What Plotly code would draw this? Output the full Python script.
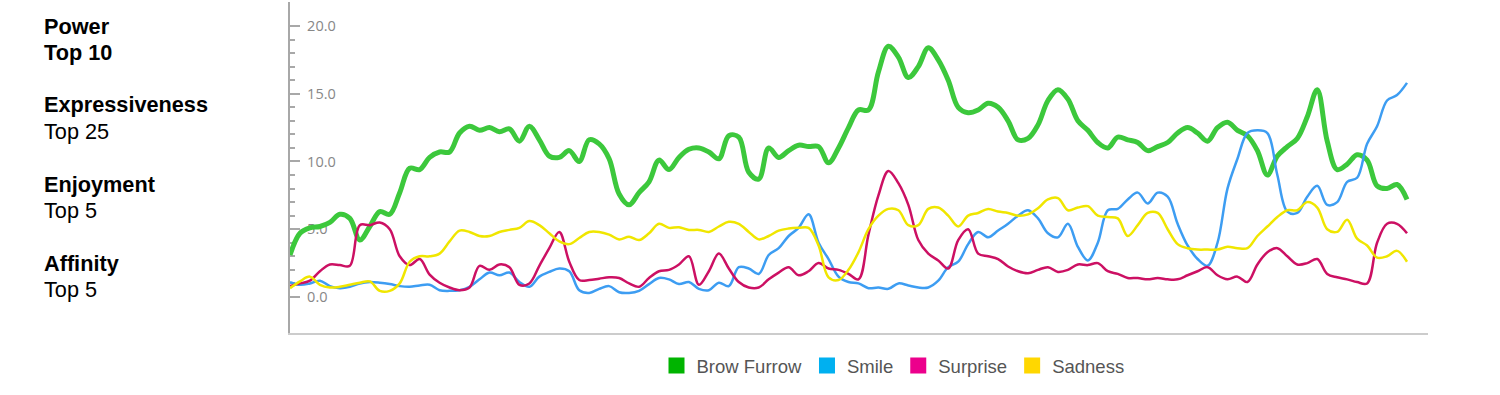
import plotly.graph_objects as go

# ---------------- data ----------------
time_s = list(range(113))

brow_furrow = [3.1, 4.7, 5.1, 5.2, 5.5, 6.1, 5.8, 4.2, 5.2, 6.3,
               6.1, 7.7, 9.5, 9.4, 10.3, 10.7, 10.7, 12.1, 12.6, 12.3,
               12.5, 12.2, 12.4, 11.5, 12.6, 11.6, 10.4, 10.3, 10.8, 10.0,
               11.6, 11.3, 10.2, 7.6, 6.8, 7.7, 8.5, 10.1, 9.4, 10.3,
               10.9, 11.0, 10.7, 10.2, 11.9, 11.8, 9.2, 8.7, 11.0, 10.3,
               10.8, 11.2, 11.1, 11.1, 9.9, 11.0, 12.5, 13.8, 13.8, 16.6,
               18.5, 17.7, 16.2, 17.0, 18.4, 17.5, 16.0, 14.0, 13.6, 13.8,
               14.3, 14.0, 13.0, 11.6, 11.7, 12.7, 14.5, 15.3, 14.6, 13.0,
               12.3, 11.4, 11.0, 11.8, 11.6, 11.4, 10.8, 11.1, 11.4, 12.1,
               12.5, 12.1, 11.5, 12.5, 12.9, 12.3, 11.9, 10.8, 9.0, 10.4,
               11.1, 11.7, 13.3, 15.3, 11.5, 9.4, 9.8, 10.5, 10.1, 8.2,
               8.0, 8.3, 7.2]

smile = [1.1, 0.9, 1.0, 1.2, 0.8, 0.65, 0.75, 1.0, 1.1, 1.05,
         0.95, 0.8, 0.75, 0.85, 0.9, 0.5, 0.45, 0.5, 0.75, 1.3,
         1.8, 1.6, 1.8, 1.1, 0.75, 1.5, 1.85, 2.1, 1.9, 0.5,
         0.3, 0.6, 0.8, 0.35, 0.3, 0.45, 0.95, 1.4, 1.3, 0.95,
         1.1, 0.6, 0.5, 1.05, 0.8, 2.2, 2.1, 1.7, 3.1, 3.6,
         4.5, 5.1, 6.1, 4.0, 2.8, 1.5, 1.1, 1.0, 0.65, 0.7,
         0.6, 1.0, 0.85, 0.7, 0.7, 1.2, 2.2, 2.6, 3.9, 4.8,
         4.4, 4.9, 5.4, 6.0, 6.4, 5.8, 4.7, 4.4, 5.4, 3.7,
         2.7, 4.0, 6.4, 6.5, 7.2, 7.7, 6.9, 7.7, 7.4, 5.4,
         3.8, 2.8, 2.3, 4.0, 8.0, 10.2, 12.1, 12.3, 12.1, 9.0,
         6.3, 6.2, 7.4, 8.2, 6.8, 7.0, 8.5, 8.8, 11.3, 12.6,
         14.5, 14.9, 15.8]

surprise = [0.8, 1.0, 1.2, 1.9, 2.4, 2.35, 2.3, 5.3, 5.3, 5.5,
            5.0, 3.0, 2.35, 2.8, 1.65, 1.05, 0.7, 0.5, 0.7, 2.3,
            2.0, 2.4, 2.2, 0.9, 1.0, 2.3, 3.6, 4.8, 2.6, 1.25,
            1.25, 1.35, 1.45, 1.4, 1.0, 0.75, 1.4, 1.9, 2.0, 2.4,
            3.0, 0.9, 1.9, 3.2, 2.1, 1.1, 0.7, 0.7, 1.3, 1.8,
            2.2, 1.6, 1.9, 2.5, 2.1, 2.0, 1.7, 1.3, 4.6, 7.5,
            9.3, 8.4, 6.8, 4.2, 3.2, 2.7, 2.1, 4.2, 5.0, 3.2,
            3.0, 2.8, 2.25, 1.9, 1.75, 2.0, 2.2, 1.85, 2.0, 2.4,
            2.35, 2.5, 1.9, 1.7, 1.4, 1.4, 1.3, 1.4, 1.3, 1.3,
            1.6, 1.9, 2.2, 1.6, 1.3, 1.5, 1.1, 2.4, 3.3, 3.6,
            3.0, 2.4, 2.5, 2.8, 1.7, 1.45, 1.3, 1.1, 1.0, 4.0,
            5.4, 5.4, 4.7]

sadness = [0.65, 1.15, 1.5, 0.9, 0.7, 0.75, 0.9, 1.05, 1.15, 0.45,
           0.45, 1.0, 2.6, 3.0, 3.0, 3.2, 4.1, 4.9, 4.8, 4.5,
           4.5, 4.8, 4.95, 5.1, 5.6, 5.3, 4.7, 4.1, 3.9, 4.35,
           4.8, 4.8, 4.6, 4.25, 4.45, 4.2, 4.7, 5.4, 5.1, 5.15,
           4.95, 4.95, 4.8, 5.2, 5.55, 5.4, 4.8, 4.25, 4.5, 4.9,
           5.05, 5.1, 5.1, 3.8, 1.45, 1.25, 2.0, 3.3, 5.0, 6.0,
           6.5, 6.4, 5.3, 5.3, 6.5, 6.6, 6.0, 5.2, 6.0, 6.2,
           6.5, 6.3, 6.2, 6.0, 6.1, 6.55, 7.2, 7.3, 6.4, 6.6,
           6.7, 6.0, 5.9, 5.8, 4.5, 5.3, 6.2, 6.2, 5.0, 3.9,
           3.6, 3.5, 3.5, 3.5, 3.7, 3.6, 3.6, 4.5, 5.2, 5.9,
           6.4, 6.4, 7.0, 6.6, 5.0, 4.8, 5.7, 4.3, 3.8, 2.9,
           3.0, 3.4, 2.6]

series_names = ["Brow Furrow", "Smile", "Surprise", "Sadness"]
series_values = [brow_furrow, smile, surprise, sadness]
line_colors = ["#3cc83c", "#3d9df2", "#cc1063", "#f0e600"]
line_widths = [5, 2.5, 2.5, 2.5]
legend_colors = ["#00b400", "#00b0f0", "#ec008c", "#ffd700"]

y_major = [0, 5, 10, 15, 20]
y_minor = [v for v in range(1, 20) if v % 5 != 0]

side_labels = [("Power", True), ("Top 10", True),
               ("Expressiveness", True), ("Top 25", False),
               ("Enjoyment", True), ("Top 5", False),
               ("Affinity", True), ("Top 5", False)]

# ---------------- layout constants ----------------
W, H = 1500, 395
ML, MR, MT, MB = 290, 72, 2, 62
PW, PH = W - ML - MR, H - MT - MB
X_END_PX = 1407  # pixel of last sample

def px2paper_x(px):
    return (px - ML) / PW

def py2paper_y(py):
    return (H - MB - py) / PH

FONT = "Liberation Sans, Arial, sans-serif"
TICK_FONT = "Open Sans, Liberation Sans, sans-serif"

fig = go.Figure()

for name, vals, col, lw in zip(series_names, series_values, line_colors, line_widths):
    fig.add_trace(go.Scatter(
        x=time_s, y=vals, mode="lines", name=name, showlegend=False,
        line=dict(color=col, width=lw, shape="spline", smoothing=1.0),
        hoverinfo="skip"))

for name, col in zip(series_names, legend_colors):
    fig.add_trace(go.Scatter(
        x=[None], y=[None], mode="markers", name=name,
        marker=dict(symbol="square", size=16, color=col, line=dict(width=0))))

step_px = (X_END_PX - ML) / (len(time_s) - 1)
x_max = PW / step_px

fig.update_xaxes(range=[0, x_max], showline=True, linecolor="#cccccc", linewidth=2,
                 showticklabels=False, ticks="", showgrid=False, zeroline=False)
fig.update_yaxes(range=[-2.66, 21.77], showline=True, linecolor="#a8a8a8", linewidth=2,
                 tickvals=y_major, tickformat=".1f", ticks="inside", ticklen=10,
                 tickwidth=1.5, tickcolor="#a8a8a8", ticklabelposition="inside",
                 ticklabelstandoff=7,
                 tickfont=dict(family=TICK_FONT, size=14.5, color="#878787"),
                 minor=dict(tickvals=y_minor, ticks="inside", ticklen=5,
                            tickwidth=1.5, tickcolor="#a8a8a8", showgrid=False),
                 showgrid=False, zeroline=False, layer="below traces")

baselines = [34, 60, 112, 139, 192, 218, 271, 297]
for (txt, bold), base in zip(side_labels, baselines):
    fig.add_annotation(
        x=px2paper_x(42), y=py2paper_y(base - 7.5), xref="paper", yref="paper",
        xanchor="left", yanchor="middle", showarrow=False,
        text=f"<b>{txt}</b>" if bold else txt,
        font=dict(family=FONT, size=21.7, color="#000000"))

fig.update_layout(
    width=W, height=H,
    margin=dict(l=ML, r=MR, t=MT, b=MB, pad=0),
    paper_bgcolor="white", plot_bgcolor="white",
    showlegend=True,
    legend=dict(orientation="h", x=px2paper_x(656.5), y=py2paper_y(366),
                xanchor="left", yanchor="middle",
                font=dict(family=FONT, size=18.5, color="#555555"),
                bgcolor="rgba(0,0,0,0)"),
    font=dict(family=FONT),
)

fig.write_html("out.html", config={"displayModeBar": False},
               post_script="document.body.style.margin='0';document.body.style.overflow='hidden';")
